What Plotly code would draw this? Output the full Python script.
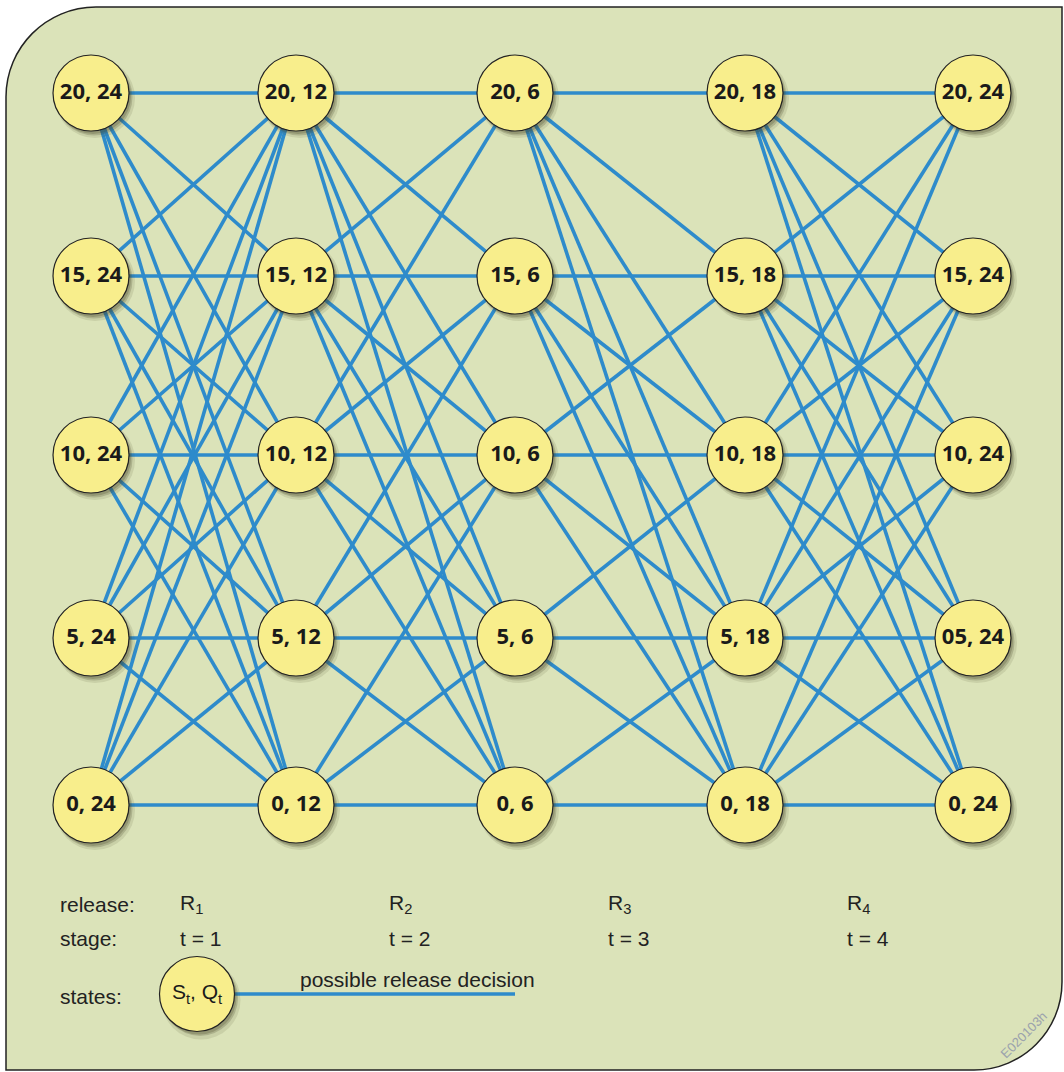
import plotly.graph_objects as go

# Reservoir states (storage S_t, inflow Q_t) per stage column
storages = [20, 15, 10, 5, 0]
inflows = [24, 12, 6, 18, 24]
node_labels = [
    ["20, 24", "15, 24", "10, 24", "5, 24", "0, 24"],
    ["20, 12", "15, 12", "10, 12", "5, 12", "0, 12"],
    ["20, 6", "15, 6", "10, 6", "5, 6", "0, 6"],
    ["20, 18", "15, 18", "10, 18", "5, 18", "0, 18"],
    ["20, 24", "15, 24", "10, 24", "05, 24", "0, 24"],
]

# possible release decisions: storage now -> storages reachable next stage
edges = [
    {20: [20, 15, 10, 5, 0], 15: [20, 15, 10, 5, 0], 10: [20, 15, 10, 5, 0],
     5: [20, 15, 10, 5, 0], 0: [20, 15, 10, 5, 0]},
    {20: [20, 15, 10, 5, 0], 15: [20, 15, 10, 5, 0], 10: [20, 15, 10, 5, 0],
     5: [15, 10, 5, 0], 0: [10, 5, 0]},
    {20: [20, 15, 10, 5, 0], 15: [15, 10, 5, 0], 10: [15, 10, 5, 0],
     5: [10, 5, 0], 0: [5, 0]},
    {20: [20, 15, 10, 5, 0], 15: [20, 15, 10, 5, 0], 10: [20, 15, 10, 5, 0],
     5: [20, 15, 10, 5, 0], 0: [15, 10, 5, 0]},
]

release_labels = ["R<sub>1</sub>", "R<sub>2</sub>", "R<sub>3</sub>", "R<sub>4</sub>"]
stage_labels = ["t = 1", "t = 2", "t = 3", "t = 4"]

# layout (pixel space)
W, H = 1064, 1072
col_x = [91, 296, 515, 745, 973]
row_y = {20: 93, 15: 276, 10: 455, 5: 638, 0: 805}
label_x = [178, 387, 606, 845]

BG = "#DBE3B9"
NODE = "#F8EE8C"
BLUE = "#2E8BCB"
INK = "#1a1a1a"

fig = go.Figure()

# panel with rounded top-left and bottom-right corners
L, T, R, B = 6, 7, 1062, 1070
r1, r2 = 90, 88
k = 0.5523
path = (f"M {L},{T + r1} C {L},{T + r1 - k * r1} {L + r1 - k * r1},{T} {L + r1},{T} "
        f"L {R},{T} L {R},{B - r2} "
        f"C {R},{B - r2 + k * r2} {R - r2 + k * r2},{B} {R - r2},{B} "
        f"L {L},{B} Z")
fig.add_shape(type="path", path=path, fillcolor=BG, line=dict(color="#222", width=1.5),
              layer="below")

# edges
ex, ey = [], []
for t, trans in enumerate(edges):
    for s, nxt in trans.items():
        for s2 in nxt:
            ex += [col_x[t], col_x[t + 1], None]
            ey += [row_y[s], row_y[s2], None]
fig.add_trace(go.Scatter(x=ex, y=ey, mode="lines", line=dict(color=BLUE, width=3.6),
                         hoverinfo="skip"))

# nodes
nx, ny, nt = [], [], []
for c, labels in enumerate(node_labels):
    for s, lab in zip(storages, labels):
        nx.append(col_x[c])
        ny.append(row_y[s])
        nt.append(lab)

for dx, dy, sz, a in [(4, 5, 80, 0.12), (3, 4, 77, 0.22), (2, 3, 76, 0.25)]:
    fig.add_trace(go.Scatter(x=[v + dx for v in nx], y=[v + dy for v in ny], mode="markers",
                             marker=dict(size=sz, color=f"rgba(70,70,40,{a})", line=dict(width=0)),
                             hoverinfo="skip"))
fig.add_trace(go.Scatter(x=nx, y=ny, mode="markers+text", text=nt, textposition="middle center",
                         textfont=dict(family="Open Sans", size=22, color=INK, weight="bold"),
                         marker=dict(size=76, color=NODE, line=dict(color="#222", width=1.2)),
                         hoverinfo="skip"))

# legend area
leg_x, leg_y = 197, 994
fig.add_trace(go.Scatter(x=[leg_x + 37, 515], y=[leg_y, leg_y], mode="lines",
                         line=dict(color=BLUE, width=3.6), hoverinfo="skip"))
for dx, dy, sz, a in [(4, 6, 79, 0.12), (3, 4, 76, 0.22), (2, 3, 75, 0.25)]:
    fig.add_trace(go.Scatter(x=[leg_x + dx], y=[leg_y + dy], mode="markers",
                             marker=dict(size=sz, color=f"rgba(70,70,40,{a})", line=dict(width=0)),
                             hoverinfo="skip"))
fig.add_trace(go.Scatter(x=[leg_x], y=[leg_y], mode="markers+text",
                         text=["S<sub>t</sub>, Q<sub>t</sub>"], textposition="middle center",
                         textfont=dict(family="Liberation Sans", size=21, color=INK),
                         marker=dict(size=75, color=NODE, line=dict(color="#222", width=1.2)),
                         hoverinfo="skip"))

txt = dict(family="Liberation Sans", size=21, color="#222")
for lab, yy in [("release:", 904), ("stage:", 938), ("states:", 996)]:
    fig.add_annotation(x=58, y=yy, text=lab, showarrow=False, xanchor="left",
                       yanchor="middle", font=txt)
for xx, rl, sl in zip(label_x, release_labels, stage_labels):
    fig.add_annotation(x=xx, y=904, text=rl, showarrow=False, xanchor="left",
                       yanchor="middle", font=txt)
    fig.add_annotation(x=xx, y=938, text=sl, showarrow=False, xanchor="left",
                       yanchor="middle", font=txt)
fig.add_annotation(x=417, y=979, text="possible release decision", showarrow=False,
                   xanchor="center", yanchor="middle", font=txt)
fig.add_annotation(x=1023, y=1035, text="E020103h", showarrow=False, textangle=-45,
                   font=dict(family="Liberation Sans", size=13, color="#9aa2ad"))

fig.update_xaxes(range=[0, W], visible=False, fixedrange=True)
fig.update_yaxes(range=[H, 0], visible=False, fixedrange=True)
fig.update_layout(width=W, height=H, margin=dict(l=0, r=0, t=0, b=0),
                  paper_bgcolor="white", plot_bgcolor="white", showlegend=False)

# drop the page's default body margin so the figure sits at the window origin
fig.write_html("out.html", config={"displayModeBar": False},
               post_script="document.body.style.margin='0';"
                           "document.body.style.overflow='hidden';")
